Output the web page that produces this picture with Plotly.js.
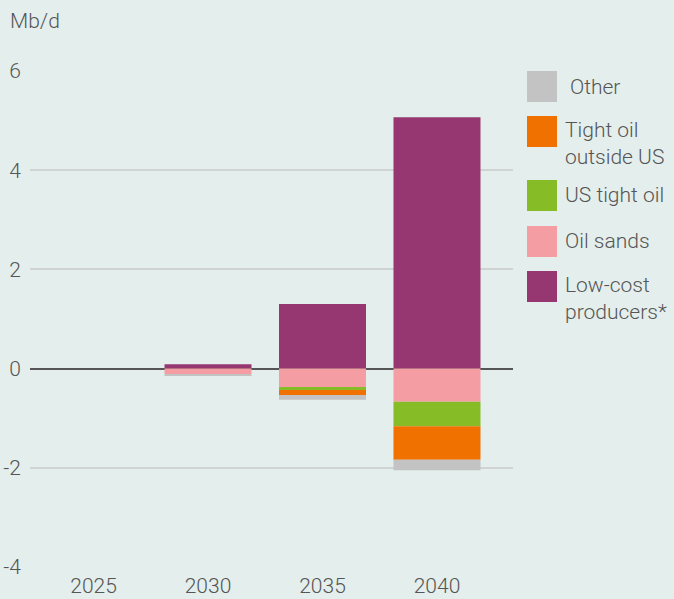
<!DOCTYPE html>
<html><head><meta charset="utf-8">
<script src="https://cdn.plot.ly/plotly-3.0.1.min.js"></script>
<style>html,body{margin:0;padding:0;background:#e4eeec;}</style>
</head><body><div id="chart" style="width:674px;height:599px;"></div>
<script>
var years = ['2025', '2030', '2035', '2040'];
var seriesNames = ['Low-cost producers*', 'Oil sands', 'US tight oil', 'Tight oil outside US', 'Other'];
var legendLabels = ['Low-cost<br>producers*', 'Oil sands', 'US tight oil', 'Tight oil<br>outside US', 'Other'];
var lowCost = [0, 0.09, 1.30, 5.07];
var oilSands = [0, -0.11, -0.39, -0.67];
var usTight = [0, 0, -0.04, -0.49];
var tightOutside = [0, 0, -0.10, -0.68];
var other = [0, -0.02, -0.10, -0.21];
var colors = ['#963771', '#f49ea3', '#86bc25', '#f07100', '#c3c3c3'];
var values = [lowCost, oilSands, usTight, tightOutside, other];

var traces = values.map(function(v, i){
  return {type:'bar', x: years, y: v, name: seriesNames[i], marker:{color: colors[i], line:{width:0}}, showlegend:false, hoverinfo:'x+y+name'};
});

var W = 483, H = 496, L = 30, T = 71;
var FONT = {size:21, color:'#555555', family:'Roboto', weight:300};
var shapes = [];
var annotations = [];
var boxTop = {4:[71,102], 3:[116,147], 2:[180,211], 1:[226,257], 0:[271,302]};
var textY = {4:87, 3:143.5, 2:195, 1:241, 0:298.5};
for (var i=0;i<5;i++){
  var b = boxTop[i];
  shapes.push({type:'rect', xref:'paper', yref:'paper', x0:(527-L)/W, x1:(557-L)/W,
    y0:1-(b[1]-T)/H, y1:1-(b[0]-T)/H, fillcolor:colors[i], line:{width:0}});
  annotations.push({xref:'paper', yref:'paper', x:((i===4?568:563)-L)/W, xanchor:'left',
    y:1-(textY[i]-T)/H, yanchor:'middle', text:legendLabels[i], showarrow:false, align:'left',
    font:FONT});
}
annotations.push({xref:'paper', yref:'paper', x:(8-L)/W, xanchor:'left', y:1+(T-21)/H, yanchor:'middle',
  text:'Mb/d', showarrow:false, font:FONT});

var layout = {
  width:674, height:599,
  paper_bgcolor:'#e4eeec', plot_bgcolor:'#e4eeec',
  margin:{l:L, r:674-L-W, t:T, b:599-T-H},
  barmode:'relative', bargap:0.24,
  font:FONT,
  showlegend:false,
  xaxis:{type:'category', range:[-0.555, 3.664], showgrid:false, zeroline:false, showline:false, ticks:'', tickfont:FONT, ticklabelstandoff:4},
  yaxis:{range:[-4,6], tickvals:[-4,-2,0,2,4,6], ticktext:['-4','-2','0','2','4','6'], showgrid:true, gridcolor:'#cfd4d3', gridwidth:1.5,
    zeroline:true, zerolinecolor:'#555555', zerolinewidth:2, showline:false, ticks:'', ticklabelstandoff:8, tickfont:FONT},
  shapes:shapes, annotations:annotations
};
Plotly.newPlot('chart', traces, layout, {displayModeBar:false});
</script></body></html>
